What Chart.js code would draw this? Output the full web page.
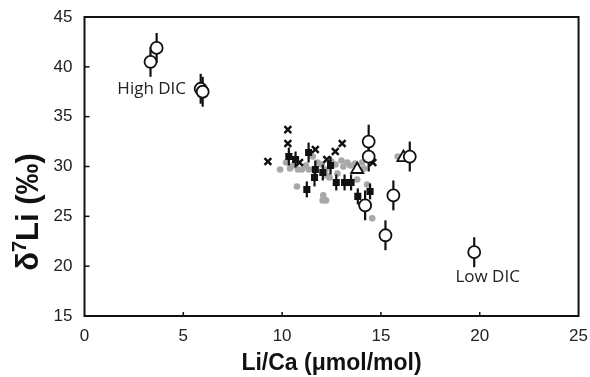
<!DOCTYPE html>
<html>
<head>
<meta charset="utf-8">
<script src="https://cdn.jsdelivr.net/npm/chart.js@4/dist/chart.umd.min.js"></script>
<style>
  html, body { margin: 0; padding: 0; background: #fff; }
  #wrap { width: 590px; height: 377px; }
</style>
</head>
<body>
<div id="wrap"><canvas id="chart" width="590" height="377"></canvas></div>
<script>
// open circles (with error bars)
const liCaOpen = [3.34, 3.65, 5.88, 5.98, 14.38, 14.38, 14.2, 15.63, 15.23, 16.46, 19.72];
const d7LiOpen = [40.5, 41.9, 37.8, 37.5, 32.5, 31.0, 26.1, 27.1, 23.1, 31.0, 21.4];
const errOpen  = [1.5, 1.5, 1.5, 1.5, 1.7, 1.5, 1.5, 1.5, 1.5, 1.5, 1.5];

// filled squares (with error bars)
const liCaSq = [10.34, 10.68, 11.34, 11.68, 11.64, 12.06, 12.45, 11.25, 12.74, 13.16, 13.49, 13.83, 14.45];
const d7LiSq = [31.0, 30.7, 31.4, 29.7, 28.9, 29.4, 30.1, 27.7, 28.4, 28.4, 28.4, 27.0, 27.5];
const errSq  = [0.9, 0.8, 1.0, 0.9, 0.9, 0.8, 0.9, 0.8, 0.8, 0.8, 0.8, 0.8, 0.8];

// crosses
const liCaX = [10.29, 10.29, 9.28, 11.68, 10.88, 12.26, 12.69, 13.04, 14.59];
const d7LiX = [33.7, 32.3, 30.5, 31.7, 30.4, 30.7, 31.5, 32.3, 30.4];

// open triangles
const liCaTri = [13.8, 16.14];
const d7LiTri = [29.7, 30.9];

// grey dots
const liCaGrey = [9.9, 10.2, 10.4, 10.55, 10.8, 11.0, 11.35, 11.55, 10.75, 12.0, 12.2, 12.25, 12.4, 12.5, 12.7, 12.8,
  13.0, 13.1, 13.3, 13.45, 13.7, 14.05, 14.15, 12.08, 12.05, 12.22, 14.56, 14.38, 15.85, 11.2, 11.8, 13.8, 14.3];
const d7LiGrey = [29.7, 30.4, 29.8, 30.1, 29.7, 29.7, 29.7, 31.0, 28.0, 30.2, 29.7, 29.1, 28.9, 30.5, 30.2, 29.3,
  30.6, 30.0, 30.4, 30.1, 30.3, 30.4, 29.8, 27.1, 26.6, 26.6, 24.8, 26.0, 31.0, 30.1, 30.4, 28.7, 28.2];

const xTicks = [0, 5, 10, 15, 20, 25];
const yTicks = [15, 20, 25, 30, 35, 40, 45];

const notes = [
  { text: 'High DIC', x: 3.4, y: 37.8 },
  { text: 'Low DIC', x: 20.4, y: 18.9 }
];

function pts(xs, ys) {
  return xs.map((x, i) => ({ x: x, y: ys[i] }));
}

// error bars drawn just before each dataset's points
const errorBars = {
  id: 'errorBars',
  beforeDatasetDraw(chart, args) {
    const ds = chart.data.datasets[args.index];
    if (!ds.err) return;
    const xs = chart.scales.x, ys = chart.scales.y;
    const ctx = chart.ctx;
    ctx.save();
    ctx.strokeStyle = '#111';
    ctx.lineWidth = 2.2;
    ds.data.forEach((p, i) => {
      const px = xs.getPixelForValue(p.x);
      ctx.beginPath();
      ctx.moveTo(px, ys.getPixelForValue(p.y - ds.err[i]));
      ctx.lineTo(px, ys.getPixelForValue(p.y + ds.err[i]));
      ctx.stroke();
    });
    ctx.restore();
  }
};

// frame, inward ticks, y title with superscript and text notes
const frame = {
  id: 'frame',
  beforeDatasetsDraw(chart) {
    const { ctx, chartArea: a } = chart;
    const xs = chart.scales.x, ys = chart.scales.y;
    ctx.save();
    ctx.strokeStyle = '#111';
    ctx.lineWidth = 2;
    ctx.strokeRect(a.left, a.top, a.right - a.left, a.bottom - a.top);
    ctx.lineWidth = 1.5;
    xTicks.slice(1, -1).forEach(v => {
      const px = xs.getPixelForValue(v);
      ctx.beginPath();
      ctx.moveTo(px, a.bottom);
      ctx.lineTo(px, a.bottom - 4);
      ctx.stroke();
    });
    yTicks.slice(1, -1).forEach(v => {
      const py = ys.getPixelForValue(v);
      ctx.beginPath();
      ctx.moveTo(a.left, py);
      ctx.lineTo(a.left + 5, py);
      ctx.stroke();
    });

    // y axis title: δ7Li (‰) with raised 7
    const big = 'bold 31px "Liberation Sans", Arial, sans-serif';
    const small = 'bold 20px "Liberation Sans", Arial, sans-serif';
    const parts = [['\u03b4', big, 0], ['7', small, -9], ['Li (\u2030)', big, 0]];
    let total = 0;
    parts.forEach(p => { ctx.font = p[1]; total += ctx.measureText(p[0]).width; });
    ctx.translate(29, 212);
    ctx.rotate(-Math.PI / 2);
    ctx.fillStyle = '#111';
    ctx.textBaseline = 'middle';
    ctx.textAlign = 'left';
    let cx = -total / 2;
    parts.forEach(p => {
      ctx.font = p[1];
      ctx.fillText(p[0], cx, p[2]);
      cx += ctx.measureText(p[0]).width;
    });
    ctx.setTransform(1, 0, 0, 1, 0, 0);

    ctx.fillStyle = '#222';
    ctx.font = '17px "Open Sans", sans-serif';
    ctx.textAlign = 'center';
    ctx.textBaseline = 'middle';
    notes.forEach(n => {
      ctx.fillText(n.text, xs.getPixelForValue(n.x), ys.getPixelForValue(n.y));
    });
    ctx.restore();
  }
};

new Chart(document.getElementById('chart'), {
  type: 'scatter',
  data: {
    datasets: [
      {
        label: 'open',
        data: pts(liCaOpen, d7LiOpen),
        err: errOpen,
        pointStyle: 'circle',
        pointRadius: 6,
        pointBackgroundColor: '#fff',
        pointBorderColor: '#111',
        pointBorderWidth: 1.8,
        order: 1
      },
      {
        label: 'triangle',
        data: pts(liCaTri, d7LiTri),
        pointStyle: 'triangle',
        pointRadius: 7,
        pointBackgroundColor: '#fff',
        pointBorderColor: '#111',
        pointBorderWidth: 1.8,
        order: 2
      },
      {
        label: 'cross',
        data: pts(liCaX, d7LiX),
        pointStyle: 'crossRot',
        pointRadius: 4.8,
        pointBorderColor: '#111',
        pointBorderWidth: 2.5,
        order: 3
      },
      {
        label: 'square',
        data: pts(liCaSq, d7LiSq),
        err: errSq,
        pointStyle: 'rect',
        pointRadius: 5,
        pointBackgroundColor: '#111',
        pointBorderColor: '#111',
        pointBorderWidth: 0,
        order: 4
      },
      {
        label: 'grey',
        data: pts(liCaGrey, d7LiGrey),
        pointStyle: 'circle',
        pointRadius: 3.3,
        pointBackgroundColor: '#a8a8a8',
        pointBorderWidth: 0,
        order: 5
      }
    ]
  },
  options: {
    responsive: false,
    animation: false,
    events: [],
    layout: { autoPadding: false, padding: { top: 17, right: 10.5, left: 0, bottom: 0 } },
    plugins: { legend: { display: false }, tooltip: { enabled: false } },
    scales: {
      x: {
        type: 'linear',
        min: 0, max: 25,
        afterBuildTicks(s) { s.ticks = xTicks.map(v => ({ value: v })); },
        afterFit(s) { s.height = 61; },
        grid: { display: false },
        border: { display: false },
        ticks: { color: '#222', font: { family: '"Liberation Sans", Arial', size: 17 }, padding: 2 },
        title: {
          display: true,
          text: 'Li/Ca (\u03bcmol/mol)',
          color: '#111',
          font: { family: '"Liberation Sans", Arial', size: 23, weight: 'bold' },
          padding: { top: 4, bottom: 0 }
        }
      },
      y: {
        type: 'linear',
        min: 15, max: 45,
        afterBuildTicks(s) { s.ticks = yTicks.map(v => ({ value: v })); },
        afterFit(s) { s.width = 84.5; },
        grid: { display: false },
        border: { display: false },
        ticks: { color: '#222', font: { family: '"Liberation Sans", Arial', size: 17 }, padding: 4 }
      }
    }
  },
  plugins: [errorBars, frame]
});
</script>
</body>
</html>
